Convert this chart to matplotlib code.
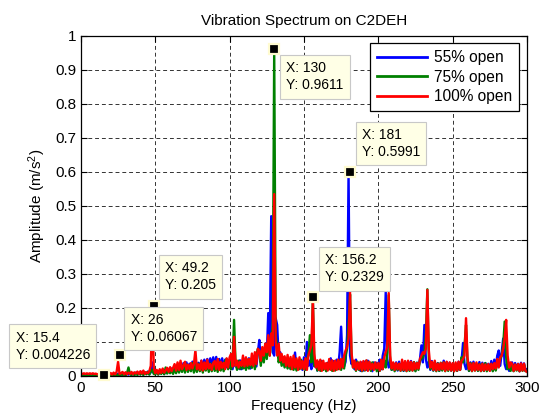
import numpy as np
import matplotlib
matplotlib.use("Agg")
import matplotlib.pyplot as plt

plt.rcParams['font.family'] = ['Liberation Sans', 'DejaVu Sans']
plt.rcParams['mathtext.default'] = 'regular'

# frequency grid, 1 Hz steps
freq = np.arange(0, 301)

# amplitudes in 1e-3 m/s^2
amp_55 = [
    2, 4, 1, 3, 2, 4, 1, 3, 2, 3,
    1, 3, 2, 4, 1, 3, 2, 5, 2, 4,
    3, 6, 2, 5, 3, 7, 2, 6, 3, 8,
    2, 7, 4, 9, 3, 8, 5, 10, 4, 9,
    5, 12, 4, 10, 6, 13, 5, 11, 40, 9,
    6, 14, 5, 12, 8, 16, 6, 15, 9, 18,
    10, 22, 12, 28, 15, 33, 18, 30, 20, 38,
    22, 40, 18, 36, 25, 42, 20, 44, 24, 39,
    26, 45, 22, 48, 28, 50, 24, 52, 30, 55,
    28, 56, 25, 50, 30, 52, 22, 48, 26, 45,
    24, 44, 20, 48, 28, 42, 22, 46, 20, 40,
    24, 47, 26, 52, 22, 50, 30, 56, 28, 70,
    106, 40, 72, 50, 95, 60, 185, 90, 470, 70,
    60, 170, 150, 55, 70, 40, 55, 30, 50, 28,
    45, 22, 48, 30, 69, 20, 40, 26, 42, 18,
    55, 24, 100, 30, 45, 20, 80, 28, 42, 16,
    40, 18, 44, 25, 36, 15, 39, 22, 52, 18,
    44, 20, 48, 25, 70, 145, 40, 28, 42, 120,
    599, 60, 35, 45, 20, 48, 22, 38, 15, 40,
    16, 42, 18, 45, 20, 37, 14, 40, 22, 39,
    18, 48, 20, 60, 80, 248, 50, 25, 40, 18,
    38, 20, 40, 16, 42, 22, 38, 15, 36, 20,
    43, 18, 44, 20, 40, 16, 39, 25, 48, 90,
    40, 150, 50, 25, 42, 18, 44, 16, 40, 20,
    38, 15, 36, 22, 45, 18, 41, 20, 39, 16,
    36, 20, 34, 15, 42, 18, 45, 97, 35, 20,
    38, 15, 40, 18, 42, 20, 34, 16, 41, 18,
    39, 15, 38, 20, 36, 18, 44, 16, 48, 22,
    60, 75, 30, 70, 110, 35, 20, 40, 15, 36,
    40, 16, 38, 20, 36, 14, 39, 18, 37, 15,
    20]

amp_75 = [
    1, 3, 1, 2, 1, 3, 1, 2, 1, 3,
    1, 2, 1, 3, 1, 2, 1, 3, 1, 4,
    2, 4, 1, 5, 2, 4, 1, 6, 2, 7,
    2, 8, 25, 5, 3, 9, 2, 8, 3, 8,
    4, 10, 3, 11, 5, 12, 4, 14, 18, 6,
    5, 14, 4, 15, 6, 16, 5, 25, 7, 17,
    8, 18, 6, 24, 8, 26, 10, 30, 12, 32,
    10, 34, 12, 28, 14, 38, 10, 31, 12, 36,
    14, 38, 10, 35, 16, 40, 12, 37, 14, 39,
    15, 32, 12, 40, 16, 38, 14, 45, 50, 20,
    48, 20, 38, 165, 40, 18, 45, 20, 42, 22,
    40, 18, 48, 22, 50, 24, 55, 20, 60, 80,
    70, 30, 75, 40, 85, 50, 100, 60, 110, 150,
    961, 120, 85, 40, 60, 30, 50, 25, 45, 22,
    44, 20, 40, 18, 42, 16, 45, 20, 48, 22,
    40, 18, 50, 60, 120, 40, 233, 30, 42, 16,
    40, 15, 42, 18, 35, 14, 37, 20, 39, 15,
    38, 16, 36, 20, 45, 18, 50, 22, 60, 80,
    150, 240, 60, 25, 40, 15, 42, 18, 35, 14,
    37, 16, 45, 18, 41, 15, 40, 20, 37, 14,
    36, 15, 38, 20, 45, 25, 70, 238, 40, 18,
    37, 14, 35, 18, 36, 15, 38, 16, 35, 14,
    40, 15, 38, 16, 41, 14, 39, 18, 45, 50,
    55, 70, 120, 255, 50, 20, 38, 16, 40, 14,
    37, 15, 39, 16, 40, 14, 38, 15, 37, 16,
    34, 14, 36, 15, 37, 18, 55, 40, 90, 150,
    40, 15, 38, 14, 37, 16, 36, 15, 35, 14,
    36, 15, 38, 14, 33, 16, 35, 14, 34, 16,
    36, 45, 50, 60, 90, 160, 55, 20, 36, 15,
    34, 14, 33, 16, 35, 14, 32, 15, 34, 14,
    15]

amp_100 = [
    8, 6, 8, 6, 8, 6, 8, 6, 8, 6,
    7, 5, 6, 3, 2, 1, 3, 6, 8, 4,
    9, 4, 10, 5, 12, 42, 6, 8, 12, 5,
    11, 5, 10, 6, 12, 5, 11, 7, 13, 6,
    14, 7, 16, 6, 11, 8, 14, 30, 205, 25,
    8, 18, 7, 20, 9, 22, 10, 16, 24, 12,
    26, 14, 24, 35, 16, 40, 18, 45, 20, 30,
    42, 18, 33, 20, 38, 22, 35, 76, 20, 34,
    18, 45, 16, 40, 20, 48, 22, 35, 18, 38,
    44, 20, 50, 18, 42, 24, 39, 20, 52, 25,
    55, 65, 28, 115, 30, 45, 25, 42, 30, 60,
    28, 55, 30, 50, 32, 66, 30, 70, 35, 80,
    75, 45, 85, 60, 95, 70, 120, 60, 125, 90,
    535, 100, 60, 95, 45, 65, 40, 58, 30, 62,
    28, 56, 20, 60, 25, 52, 18, 55, 22, 44,
    20, 52, 18, 60, 75, 90, 220, 65, 25, 46,
    18, 48, 15, 45, 20, 38, 16, 50, 18, 46,
    15, 45, 18, 48, 20, 50, 25, 60, 75, 85,
    110, 247, 70, 25, 45, 18, 40, 20, 42, 16,
    44, 18, 46, 15, 42, 20, 36, 18, 40, 22,
    38, 16, 48, 20, 55, 70, 85, 244, 60, 22,
    40, 18, 38, 20, 36, 16, 48, 18, 44, 15,
    45, 18, 42, 16, 40, 20, 38, 22, 50, 60,
    70, 65, 80, 253, 75, 25, 42, 18, 45, 16,
    36, 18, 38, 20, 40, 15, 42, 18, 40, 16,
    38, 14, 40, 16, 42, 18, 45, 50, 60, 170,
    55, 20, 36, 15, 38, 16, 40, 18, 34, 15,
    36, 16, 34, 18, 35, 15, 36, 20, 38, 22,
    50, 25, 55, 60, 80, 110, 165, 60, 25, 40,
    36, 15, 34, 18, 35, 14, 37, 16, 36, 15,
    12]

# data tips shown on the chart
tip_x = [15.4, 26, 49.2, 130, 156.2, 181]
tip_y = [0.004226, 0.06067, 0.205, 0.9611, 0.2329, 0.5991]
tip_lbl = ['0.004226', '0.06067', '0.205', '0.9611', '0.2329', '0.5991']
tip_off = [(-10, 9), (8, 8), (8, 10), (8.5, -8.5), (8.5, 9), (8.5, 9.5)]

fig = plt.figure(figsize=(5.43, 4.16), dpi=100)
ax = fig.add_axes([0.149, 0.0962, 0.8215, 0.8173])

ax.plot(freq, np.array(amp_55) / 1000, color='#0000ff', lw=1.7, label='55% open')
ax.plot(freq, np.array(amp_75) / 1000, color='#008000', lw=1.7, label='75% open')
ax.plot(freq, np.array(amp_100) / 1000, color='#ff0000', lw=1.7, label='100% open')

ax.plot(tip_x, tip_y, ls='none', marker='s', ms=7.5, mfc='k', mec='#fffbd0',
        mew=1.6, zorder=5, clip_on=False)

for x, y, s, off in zip(tip_x, tip_y, tip_lbl, tip_off):
    ha = 'right' if off[0] < 0 else 'left'
    va = 'top' if off[1] < 0 else 'bottom'
    ax.annotate('X: %g\nY: %s' % (x, s), xy=(x, y), xytext=off,
                textcoords='offset points', ha=ha, va=va, multialignment='left',
                fontsize=10, linespacing=1.3, zorder=6,
                bbox=dict(boxstyle='square,pad=0.45', fc='#ffffe6', ec='#c8c8c8', lw=0.8))

ax.set_xlim(0, 300)
ax.set_ylim(0, 1)
ax.set_xticks(np.arange(0, 301, 50))
ax.set_yticks(np.arange(0, 1.01, 0.1))
ax.set_yticklabels(['0', '0.1', '0.2', '0.3', '0.4', '0.5', '0.6', '0.7', '0.8', '0.9', '1'])
ax.tick_params(direction='in', top=True, right=True, labelsize=11, length=4, width=0.8)
ax.grid(True, color='0.2', linestyle=(0, (4, 3)), linewidth=0.7)
ax.set_axisbelow(True)
for sp in ax.spines.values():
    sp.set_linewidth(0.9)

ax.set_title('Vibration Spectrum on C2DEH', fontsize=11, pad=8)
ax.set_xlabel('Frequency (Hz)', fontsize=11, labelpad=3)
ax.set_ylabel('Amplitude (m/s$^2$)', fontsize=11, labelpad=5)

leg = ax.legend(loc='upper right', bbox_to_anchor=(0.982, 0.979), fontsize=11.2,
                handlelength=3.2, fancybox=False, framealpha=1, edgecolor='k',
                borderpad=0.45, labelspacing=0.3, handletextpad=0.45, borderaxespad=0)
leg.get_frame().set_linewidth(0.9)
for l in leg.get_lines():
    l.set_linewidth(2)

fig.savefig('out.png', dpi=100)
